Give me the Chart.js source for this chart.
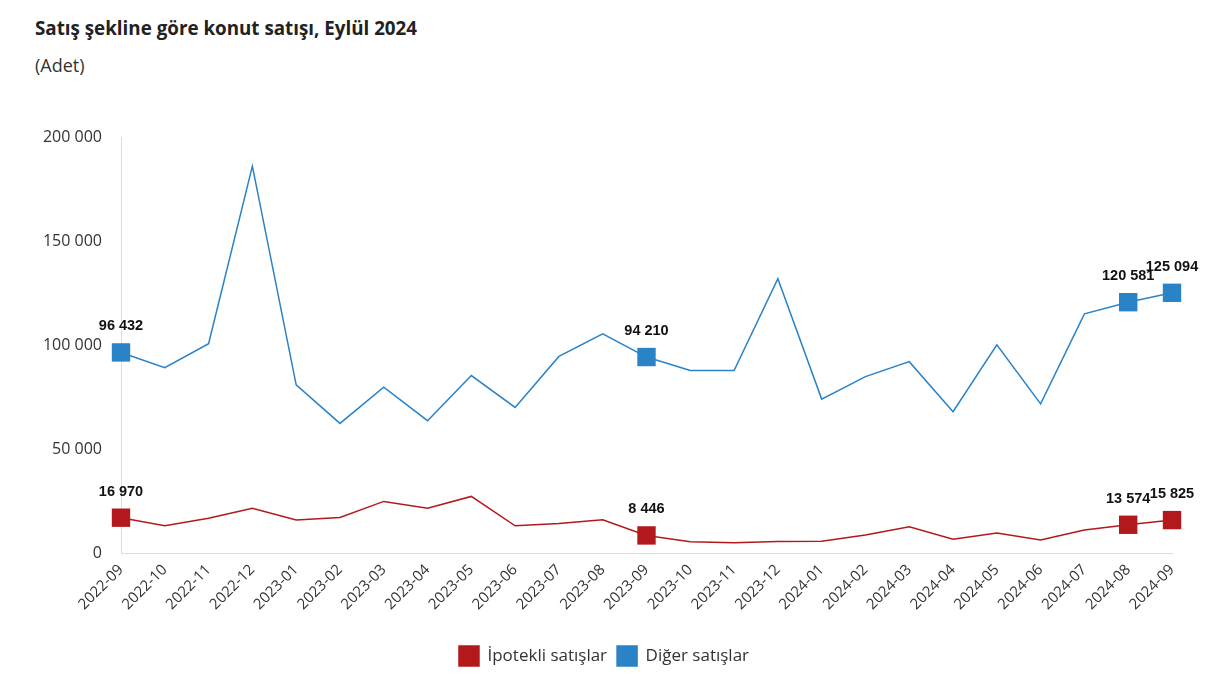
<!DOCTYPE html>
<html>
<head>
<meta charset="utf-8">
<script src="https://cdn.jsdelivr.net/npm/chart.js@4"></script>
<style>
  html, body { margin: 0; padding: 0; background: #fff; }
  body { width: 1219px; height: 680px; position: relative; overflow: hidden; font-family: "Open Sans", "Noto Sans", sans-serif; }
  #title { position: absolute; left: 35px; top: 15px; font-size: 18.8px; font-weight: 700; color: #222; white-space: nowrap; }
  #subtitle { position: absolute; left: 35px; top: 53px; font-size: 18px; color: #333; }
  #wrap { position: absolute; left: 0; top: 0; width: 1219px; height: 680px; }
</style>
</head>
<body>
<div id="title">Satış şekline göre konut satışı, Eylül 2024</div>
<div id="subtitle">(Adet)</div>
<div id="wrap"><canvas id="c" width="1219" height="680"></canvas></div>
<script>
const categories = ["2022-09","2022-10","2022-11","2022-12","2023-01","2023-02","2023-03","2023-04","2023-05","2023-06","2023-07","2023-08","2023-09","2023-10","2023-11","2023-12","2024-01","2024-02","2024-03","2024-04","2024-05","2024-06","2024-07","2024-08","2024-09"];
const ipotekli = [16970,13100,16700,21500,15900,17100,24800,21500,27200,13100,14200,16000,8446,5400,4900,5500,5700,8700,12600,6600,9600,6300,11100,13574,15825];
const diger = [96432,89100,100600,186000,80800,62300,79700,63600,85300,70000,94500,105400,94210,87700,87700,131900,74000,84800,92000,67900,100100,71700,115000,120581,125094];
const labeledIdx = [0,12,23,24];
const yTicks = [0,50000,100000,150000,200000];

function fmt(v){ return String(Math.round(v)).replace(/\B(?=(\d{3})+(?!\d))/g, " "); }

const RED = "#b3191c", BLUE = "#2a82c7";
const radii = categories.map((_, i) => labeledIdx.includes(i) ? 13 : 0);

const labelPlugin = {
  id: 'valueLabels',
  afterDatasetsDraw(chart) {
    const ctx = chart.ctx;
    ctx.save();
    ctx.font = "bold 14.5px 'Liberation Sans', Arial, sans-serif";
    ctx.fillStyle = "#111";
    ctx.textAlign = "center";
    ctx.textBaseline = "middle";
    chart.data.datasets.forEach((ds, di) => {
      const meta = chart.getDatasetMeta(di);
      labeledIdx.forEach(i => {
        const p = meta.data[i];
        ctx.fillText(fmt(ds.data[i]), p.x, p.y - 26);
      });
    });
    ctx.restore();
  }
};

new Chart(document.getElementById('c'), {
  type: 'line',
  data: {
    labels: categories,
    datasets: [
      { label: "İpotekli satışlar", data: ipotekli, borderColor: RED, backgroundColor: RED, borderWidth: 1.5,
        pointStyle: 'rect', pointRadius: radii, pointHoverRadius: radii, pointBorderWidth: 0, tension: 0 },
      { label: "Diğer satışlar", data: diger, borderColor: BLUE, backgroundColor: BLUE, borderWidth: 1.5,
        pointStyle: 'rect', pointRadius: radii, pointHoverRadius: radii, pointBorderWidth: 0, tension: 0 }
    ]
  },
  options: {
    responsive: false,
    animation: false,
    events: [],
    layout: { padding: { top: 137, left: 36, right: 47, bottom: 4 } },
    plugins: {
      tooltip: { enabled: false },
      legend: {
        position: 'bottom',
        labels: {
          usePointStyle: false, boxWidth: 20, boxHeight: 20, padding: 10,
          color: "#333", font: { size: 17, family: "'Open Sans', 'Noto Sans', sans-serif" }
        }
      }
    },
    scales: {
      x: {
        offset: false,
        grid: { display: false, drawTicks: false },
        border: { display: true, color: "#dddddd", width: 1 },
        ticks: { maxRotation: 45, minRotation: 45, autoSkip: false, padding: 8, color: "#333",
                 font: { size: 15, family: "'Open Sans', 'Noto Sans', sans-serif" } },
        afterFit(s) { s.height = 83; }
      },
      y: {
        min: 0, max: 200000,
        afterBuildTicks(s) { s.ticks = yTicks.map(v => ({ value: v })); },
        grid: { display: false, drawTicks: false },
        border: { display: true, color: "#dddddd", width: 1 },
        ticks: { padding: 19, color: "#333", callback: v => fmt(v),
                 font: { size: 16, family: "'Open Sans', 'Noto Sans', sans-serif" } },
        afterFit(s) { s.width = 85; }
      }
    }
  },
  plugins: [labelPlugin]
});
</script>
</body>
</html>
